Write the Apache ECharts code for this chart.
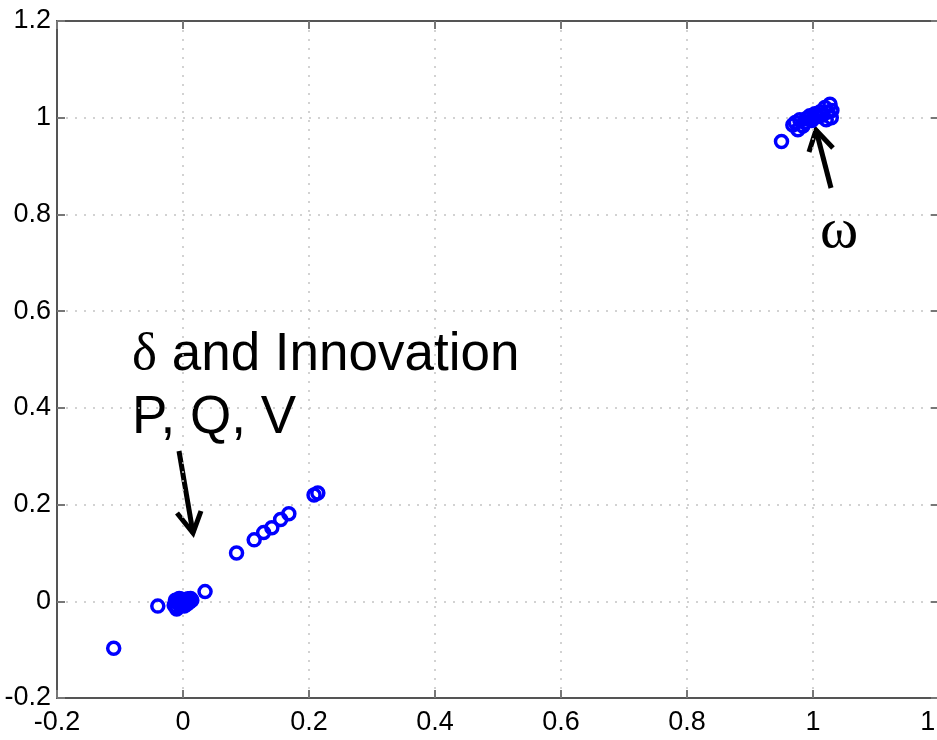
<!DOCTYPE html>
<html>
<head>
<meta charset="utf-8">
<script src="https://cdn.jsdelivr.net/npm/echarts@6/dist/echarts.min.js"></script>
<style>
  html, body { margin: 0; padding: 0; background: #fff; }
  #chart { width: 937px; height: 740px; }
</style>
</head>
<body>
<div id="chart"></div>
<script>
// delta / innovation P, Q, V cluster (near origin)
const lowX = [-0.11, -0.04, -0.012, -0.01, -0.008, -0.004, 0, 0.002, 0.004, 0.008, 0.012, -0.006, 0.01, 0.035,
  -0.014, 0.006, -0.002, 0.014, -0.01,
  0.085, 0.113, 0.128, 0.141, 0.155, 0.168, 0.208, 0.214]
const lowY = [-0.097, -0.01, 0.002, -0.012, -0.004, -0.008, -0.002, -0.01, 0.002, 0.005, 0.006, 0.006, -0.002, 0.02,
  -0.008, -0.006, 0.004, 0.002, -0.016,
  0.1, 0.127, 0.142, 0.152, 0.169, 0.181, 0.22, 0.224]
// omega cluster (near 1,1)
const highX = [0.95, 0.968, 0.976, 0.979, 0.984, 0.989, 0.995, 0.998, 1.003, 1.011, 1.019, 1.021, 1.027, 1.029,
  0.972, 0.987, 1.0, 1.007, 1.015, 1.024, 1.03, 0.993]
const highY = [0.951, 0.985, 0.975, 0.996, 0.983, 0.998, 1.004, 0.994, 1.008, 1.012, 1.021, 0.996, 1.028, 1.0,
  0.99, 0.99, 1.0, 1.002, 1.005, 1.012, 1.015, 1.0]

const axisTicks = { min: -0.2, max: 1.2, interval: 0.2 }

const chart = echarts.init(document.getElementById('chart'))

const lbl = { color: '#000', fontSize: 27, fontFamily: '"Liberation Sans", Arial, sans-serif' }
const axLine = { onZero: false, lineStyle: { color: '#555', width: 2 } }
const tick = { inside: true, length: 8, lineStyle: { color: '#777', width: 2 } }
const grid = { show: true, lineStyle: { color: '#c4c4c4', width: 1.5, type: [2, 7] } }

const pointStyle = { color: 'rgba(0,0,0,0)', borderColor: '#0000ff', borderWidth: 3.5, opacity: 1 }

chart.setOption({
  animation: false,
  backgroundColor: '#fff',
  grid: { left: 57, right: -2, top: 21, bottom: 42, outerBoundsMode: 'none', containLabel: false,
    show: true, borderColor: '#555', borderWidth: 2 },
  xAxis: [
    { type: 'value', ...axisTicks, axisLine: axLine, axisTick: tick, splitLine: grid,
      axisLabel: { ...lbl, margin: 11, showMaxLabel: true, hideOverlap: false } },
    { type: 'value', position: 'top', ...axisTicks, axisLine: axLine, axisTick: tick,
      splitLine: { show: false }, axisLabel: { show: false } }
  ],
  yAxis: [
    { type: 'value', ...axisTicks, axisLine: axLine, axisTick: tick, splitLine: grid,
      axisLabel: { ...lbl, margin: 6 } },
    { type: 'value', position: 'right', ...axisTicks, axisLine: axLine, axisTick: tick,
      splitLine: { show: false }, axisLabel: { show: false } }
  ],
  series: [
    { type: 'scatter', symbol: 'circle', symbolSize: 12, itemStyle: pointStyle,
      data: lowX.map((x, i) => [x, lowY[i]]) },
    { type: 'scatter', symbol: 'circle', symbolSize: 12, itemStyle: pointStyle,
      data: highX.map((x, i) => [x, highY[i]]) }
  ],
  graphic: [
    // label for the cluster at the origin
    { type: 'text', left: 132, top: 324, style: {
        text: '{g|δ} and Innovation\nP, Q, V', fill: '#000', font: '53px "Liberation Sans", Arial, sans-serif',
        lineHeight: 63,
        rich: { g: { font: '53px "Liberation Serif", "Times New Roman", serif', fill: '#000' } } } },
    { type: 'polyline', shape: { points: [[179, 451], [193, 533]] }, style: { stroke: '#000', lineWidth: 5 } },
    { type: 'polyline', shape: { points: [[177, 513], [193, 533], [201, 511]] }, style: { stroke: '#000', lineWidth: 5, fill: null } },
    // omega label
    { type: 'text', left: 820, top: 203, style: { text: 'ω', fill: '#000', font: '58px "Liberation Serif", "Times New Roman", serif' } },
    { type: 'polyline', shape: { points: [[831, 188], [816, 130]] }, style: { stroke: '#000', lineWidth: 5 } },
    { type: 'polyline', shape: { points: [[809, 152], [816, 130], [833, 148]] }, style: { stroke: '#000', lineWidth: 5, fill: null } }
  ]
})
</script>
</body>
</html>
